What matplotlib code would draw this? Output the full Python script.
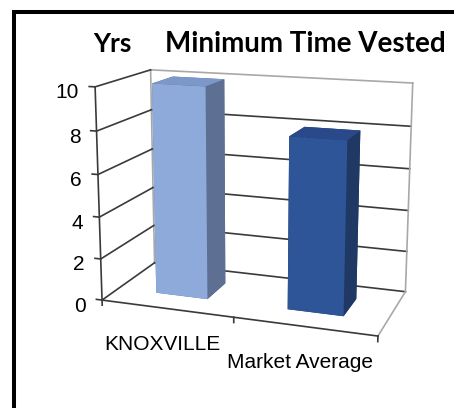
import matplotlib
matplotlib.use("Agg")
import matplotlib.pyplot as plt
from matplotlib.lines import Line2D
from matplotlib.transforms import offset_copy
from mpl_toolkits.mplot3d import proj3d

# ---- data -------------------------------------------------------------
categories = ["KNOXVILLE", "Market Average"]
years = [10, 8]
y_ticks = [0, 2, 4, 6, 8, 10]
title = "Minimum Time Vested"
unit_label = "Yrs"

# ---- style ------------------------------------------------------------
front_colors = ["#8eaadb", "#2e5597"]
side_colors = ["#5d6f93", "#1f3864"]
top_colors = ["#7b98c9", "#29498a"]
GRID = "#3a3a3a"
EDGE = "#a8a8a8"
BAR_W = 0.4               # bar width (category units)
BAR_Y0, BAR_D = 0.3, 0.4  # bar depth placement inside the floor

plt.rcParams["font.family"] = ["Liberation Sans", "DejaVu Sans"]

W, H = 454, 408
fig = plt.figure(figsize=(W / 100, H / 100), dpi=100)
fig.patch.set_facecolor("white")

ax = fig.add_axes([0.0758, 0.0745, 0.9163, 1.0196], projection="3d")
ax.set_proj_type("persp", focal_length=0.471)
ax.view_init(elev=12.9, azim=-70.4, roll=0)
ax.computed_zorder = False
ax.set_axis_off()
ax.patch.set_alpha(0)

n = len(categories)
x0, x1 = 0.0, float(n)
yf, yb = 0.0, 1.0
ztop = max(y_ticks)

# gridlines on the side wall and back wall
for t in y_ticks:
    ax.plot([x0, x0], [yf, yb], [t, t], color=GRID, lw=1.2, zorder=2)
    ax.plot([x0, x1], [yb, yb], [t, t], color=GRID if t < ztop else EDGE,
            lw=1.2, zorder=1)

# wall / floor borders
ax.plot([x0, x0], [yb, yb], [0, ztop], color=EDGE, lw=1.2, zorder=1)
ax.plot([x1, x1], [yb, yb], [0, ztop], color=EDGE, lw=1.2, zorder=1)
ax.plot([x1, x1], [yf, yb], [0, 0], color=EDGE, lw=1.2, zorder=1)

# value axis line and tick marks
ax.plot([x0, x0], [yf, yf], [0, ztop], color=GRID, lw=1.2, zorder=3)
for t in y_ticks:
    ax.plot([x0, x0 - 0.045], [yf, yf], [t, t], color=GRID, lw=1.2, zorder=3)

# category axis line and tick marks
ax.plot([x0, x1], [yf, yf], [0, 0], color=GRID, lw=1.2, zorder=3)
for k in range(n + 1):
    ax.plot([k, k], [yf, yf], [0, -0.25], color=GRID, lw=1.2, zorder=3)

# bars: face order -z, +z, -y, +y, -x, +x
for i, v in enumerate(years):
    fc, sc, tc = front_colors[i], side_colors[i], top_colors[i]
    ax.bar3d(i + 0.5 - BAR_W / 2, BAR_Y0, 0, BAR_W, BAR_D, v,
             color=[sc, tc, fc, sc, sc, sc], shade=False,
             linewidth=0, zorder=5)

ax.set_xlim(-0.113, x1)
ax.set_ylim(yf, yb)
ax.set_zlim(0, 12.66)
ax.set_box_aspect((0.280, 0.119, 0.257), zoom=1)

# axis labels: project the 3D anchor points, then offset in pixels
M = ax.get_proj()


def project(x, y, z):
    xs, ys, _ = proj3d.proj_transform(x, y, z, M)
    return float(xs), float(ys)


tick_tf = offset_copy(ax.transData, fig=fig, x=-16, y=-6, units="dots")
for t in y_ticks:
    px, py = project(x0, yf, t)
    ax.text2D(px, py, f"{t}", transform=tick_tf, ha="right", va="center",
              fontsize=15, color="black")

cat_tf = offset_copy(ax.transData, fig=fig, x=-4, y=-27, units="dots")
for i, cat in enumerate(categories):
    px, py = project(i + 0.5, yf, 0)
    ax.text2D(px, py, cat, transform=cat_tf, ha="center", va="top",
              fontsize=15, color="black")

# titles
fig.text(305.5 / W, 1 - 52 / H, title, family="Lato", weight="bold",
         fontsize=20, ha="center", va="baseline")
fig.text(112.5 / W, 1 - 52 / H, unit_label, family="Lato", weight="bold",
         fontsize=19, ha="center", va="baseline")

# outer frame (left and top edges)
fig.add_artist(Line2D([14 / W, 14 / W], [0, 1 - 10 / H], color="black",
                      lw=2.9, solid_capstyle="butt"))
fig.add_artist(Line2D([12 / W, 1], [1 - 12 / H, 1 - 12 / H], color="black",
                      lw=2.9, solid_capstyle="butt"))

fig.savefig("out.png", dpi=100)
